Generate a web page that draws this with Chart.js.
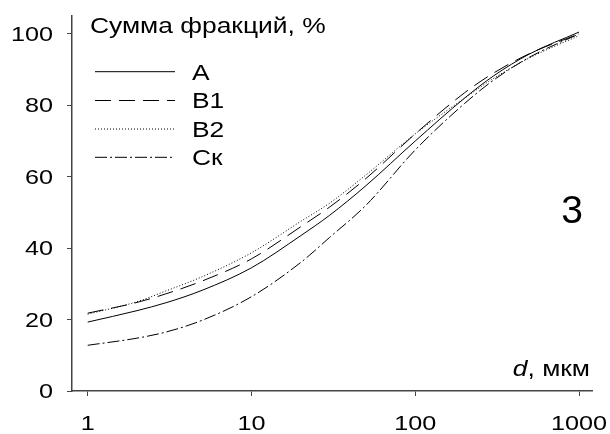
<!DOCTYPE html>
<html>
<head>
<meta charset="utf-8">
<script src="https://cdn.jsdelivr.net/npm/chart.js@4"></script>
<style>
  html, body { margin: 0; padding: 0; background: #fff; }
  #wrap { width: 610px; height: 434px; position: relative; }
</style>
</head>
<body>
<div id="wrap"><canvas id="c" width="610" height="434"></canvas></div>
<script>
// Particle size, мкм
const sizes = [1, 2, 3, 5, 10, 20, 30, 50, 100, 200, 300, 500, 1000];

// Cumulative fraction sums, %
const seriesA  = [19.3, 22.5, 24.7, 28.2, 34.5, 43.5, 49.2, 57.5, 70.0, 82.0, 88.2, 94.4, 100.5];
const seriesB1 = [21.8, 24.8, 27.2, 30.8, 37.0, 46.0, 51.5, 59.5, 72.0, 83.5, 89.0, 94.5, 100.0];
const seriesB2 = [21.5, 25.0, 28.0, 32.0, 38.7, 47.5, 52.6, 60.5, 72.0, 82.0, 87.5, 93.3, 99.5];
const seriesCk = [12.8, 14.8, 16.5, 19.8, 26.4, 36.0, 43.0, 52.0, 67.5, 80.5, 87.0, 93.5, 100.0];

const seriesNames = ['A', 'B1', 'B2', 'Ск'];
const xTicks = [1, 10, 100, 1000];
const yTicks = [0, 20, 40, 60, 80, 100];
const yTitle = 'Сумма фракций, %';
const xTitleItalic = 'd';
const xTitleRest = ', мкм';
const panelNumber = '3';

const SX = 1.2;               // horizontal stretch of the lettering
const FONT = '"Liberation Sans", Arial, sans-serif';
const AXIS_COLOR = '#444';

const dashes = [[], [16, 8], [1, 2], [12, 3, 2, 3]];

function pts(vals) { return sizes.map((x, i) => ({ x: x, y: vals[i] })); }

const datasets = [seriesA, seriesB1, seriesB2, seriesCk].map((vals, i) => ({
  label: seriesNames[i],
  data: pts(vals),
  borderColor: '#000',
  borderWidth: 1,
  borderDash: dashes[i],
  pointRadius: 0,
  fill: false,
  cubicInterpolationMode: 'monotone'
}));

function stretched(ctx, text, x, y, align, size, style) {
  ctx.save();
  ctx.translate(x, y);
  ctx.scale(SX, 1);
  ctx.font = (style || '') + ' ' + size + 'px ' + FONT;
  ctx.textAlign = align;
  ctx.textBaseline = 'alphabetic';
  ctx.fillStyle = '#000';
  ctx.fillText(text, 0, 0);
  ctx.restore();
}

const lettering = {
  id: 'lettering',
  afterDraw(chart) {
    const ctx = chart.ctx;
    const xs = chart.scales.x, ys = chart.scales.y;

    // tick labels
    yTicks.forEach(v => stretched(ctx, String(v), 53, ys.getPixelForValue(v) + 7, 'right', 21));
    xTicks.forEach(v => stretched(ctx, String(v), xs.getPixelForValue(v), 430, 'center', 21));

    // axis titles
    stretched(ctx, yTitle, 90, 33, 'left', 22);
    ctx.save();
    ctx.font = '22px ' + FONT;
    const restW = ctx.measureText(xTitleRest).width * SX;
    ctx.restore();
    const rightEdge = 590;
    stretched(ctx, xTitleRest, rightEdge - restW, 376, 'left', 22);
    stretched(ctx, xTitleItalic, rightEdge - restW, 376, 'right', 22, 'italic');

    // legend
    const rows = [71.7, 100.5, 129, 157.3];
    chart.data.datasets.forEach((ds, i) => {
      const y = rows[i];
      ctx.save();
      ctx.strokeStyle = '#000';
      ctx.lineWidth = 1;
      ctx.setLineDash(ds.borderDash);
      ctx.beginPath();
      ctx.moveTo(95, y);
      ctx.lineTo(175, y);
      ctx.stroke();
      ctx.restore();
      stretched(ctx, ds.label, 192, y + 7.8, 'left', 22);
    });

    // panel number
    ctx.save();
    ctx.font = '39px ' + FONT;
    ctx.textAlign = 'center';
    ctx.textBaseline = 'alphabetic';
    ctx.fillStyle = '#000';
    ctx.fillText(panelNumber, 572, 223);
    ctx.restore();
  }
};

new Chart(document.getElementById('c'), {
  type: 'line',
  data: { datasets: datasets },
  options: {
    responsive: false,
    animation: false,
    devicePixelRatio: 1,
    layout: { padding: { left: 0, top: 16, right: 18, bottom: 0 } },
    plugins: { legend: { display: false }, tooltip: { enabled: false } },
    scales: {
      x: {
        type: 'logarithmic',
        min: 0.802,
        max: 1200,
        afterBuildTicks: s => { s.ticks = xTicks.map(v => ({ value: v })); },
        afterFit: s => { s.height = 43; },
        ticks: { display: false },
        grid: { drawOnChartArea: false, drawTicks: true, tickLength: 5, color: AXIS_COLOR, lineWidth: 1 },
        border: { display: true, color: AXIS_COLOR, width: 1.5 }
      },
      y: {
        type: 'linear',
        min: 0,
        max: 105,
        afterBuildTicks: s => { s.ticks = yTicks.map(v => ({ value: v })); },
        afterFit: s => { s.width = 72; },
        ticks: { display: false },
        grid: { drawOnChartArea: false, drawTicks: true, tickLength: 5, color: AXIS_COLOR, lineWidth: 1 },
        border: { display: true, color: AXIS_COLOR, width: 1.5 }
      }
    }
  },
  plugins: [lettering]
});
</script>
</body>
</html>
